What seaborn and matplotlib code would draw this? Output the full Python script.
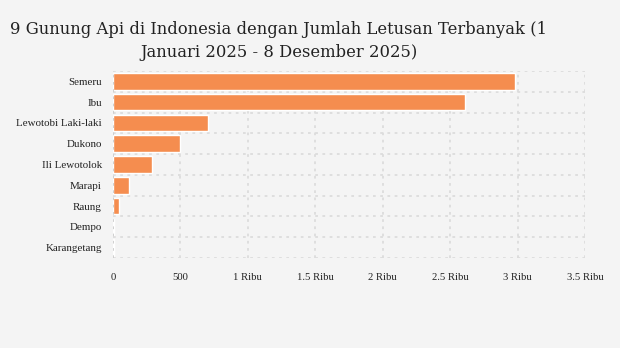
import matplotlib
matplotlib.use("Agg")
import matplotlib.pyplot as plt
import seaborn as sns
import pandas as pd

volcanoes = ["Semeru", "Ibu", "Lewotobi Laki-laki", "Dukono", "Ili Lewotolok",
             "Marapi", "Raung", "Dempo", "Karangetang"]
eruptions = [2980, 2610, 705, 498, 290, 120, 47, 10, 4]
xticks = [0, 500, 1000, 1500, 2000, 2500, 3000, 3500]
xtick_labels = ["0", "500", "1 Ribu", "1.5 Ribu", "2 Ribu", "2.5 Ribu", "3 Ribu", "3.5 Ribu"]
title = "9 Gunung Api di Indonesia dengan Jumlah Letusan Terbanyak (1\nJanuari 2025 - 8 Desember 2025)"

df = pd.DataFrame({"volcano": volcanoes, "eruptions": eruptions})

sns.set_theme(style="white")
bg = "#f4f4f4"
fig = plt.figure(figsize=(6.2, 3.48), dpi=100, facecolor=bg)
ax = fig.add_axes([113/620, 1-258/348, (585-113)/620, (258-71)/348])
ax.set_facecolor(bg)

sns.barplot(data=df, x="eruptions", y="volcano", color="#f58d4f", saturation=1,
            width=0.8, ax=ax, zorder=3)

ax.set_xlim(0, 3500)
ax.set_ylim(len(volcanoes) - 0.5, -0.5)
ax.set_xticks(xticks)
ax.set_xticklabels(xtick_labels)
ax.set_xlabel("")
ax.set_ylabel("")

grid_kw = dict(color="#dcdcdc", linewidth=1.3, linestyle=(0, (1.5, 2.5)), zorder=0)
for xv in xticks[1:]:
    ax.axvline(xv, **grid_kw)
for yv in [i - 0.5 for i in range(len(volcanoes) + 1)]:
    ax.axhline(yv, **grid_kw)
ax.axvline(0, color="#cccccc", linewidth=1.3, linestyle=(0, (1.5, 2.5)), zorder=4)

for s in ax.spines.values():
    s.set_visible(False)

serif = ["Liberation Serif", "DejaVu Serif"]
ax.tick_params(axis="y", length=5, width=1, color="#e0e0e0", pad=3, labelsize=7.9)
ax.tick_params(axis="x", length=0, pad=11, labelsize=7.7)
for lab in ax.get_yticklabels() + ax.get_xticklabels():
    lab.set_fontfamily(serif)
    lab.set_color("#222222")

fig.text(279/620, 1-41/348, title, ha="center", va="center", fontsize=11.8,
         family=["DejaVu Serif"], color="#222222", linespacing=1.4)

fig.savefig("out.png", dpi=100, facecolor=bg)
